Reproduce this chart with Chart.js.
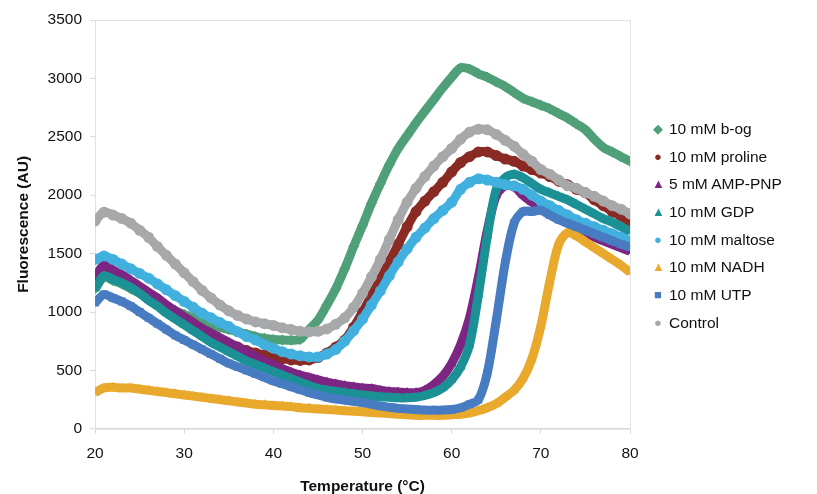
<!DOCTYPE html>
<html>
<head>
<meta charset="utf-8">
<script src="https://cdn.jsdelivr.net/npm/chart.js@4.4.0/dist/chart.umd.min.js"></script>
<style>
  html, body { margin: 0; padding: 0; background: #fff; }
  #wrap { position: relative; width: 817px; height: 494px; }
  #legend { position: absolute; left: 652px; top: 115px; font-family: "Liberation Sans", Arial, sans-serif; font-size: 15.5px; color: #111; }
  #legend div { height: 27.7px; line-height: 27.7px; white-space: nowrap; }
  #legend span.mk { display: inline-block; width: 12px; margin-right: 5px; text-align: center; font-size: 13px; vertical-align: 1px; }
</style>
</head>
<body>
<div id="wrap">
  <canvas id="c-melt" width="817" height="494"></canvas>
  <div id="legend"></div>
</div>
<script>
// temperature steps (°C)
const temps = [];
for (let t = 20; t <= 80; t++) temps.push(t);

const labels = ['10 mM b-og', '10 mM proline', '5 mM AMP-PNP', '10 mM GDP', '10 mM maltose', '10 mM NADH', '10 mM UTP', 'Control'];

const bog = [1200,1300,1270,1240,1200,1160,1120,1080,1040,1010,980,950,920,895,870,850,830,810,790,775,765,760,758,765,850,930,1060,1200,1370,1560,1740,1930,2100,2260,2400,2510,2620,2720,2820,2920,3010,3090,3080,3040,3010,2970,2930,2880,2830,2800,2770,2740,2700,2660,2610,2560,2480,2410,2370,2330,2290];
const proline = [1300,1370,1330,1280,1230,1180,1130,1080,1030,980,930,880,840,800,760,730,700,670,650,630,610,600,590,585,590,610,650,700,760,870,1000,1140,1280,1430,1580,1730,1860,1950,2030,2110,2200,2280,2330,2370,2370,2340,2310,2290,2250,2220,2190,2160,2120,2090,2050,2020,1960,1910,1860,1820,1770];
const ampPnp = [1300,1400,1360,1320,1270,1220,1170,1120,1060,1010,960,910,860,820,780,740,700,660,620,580,550,515,485,460,440,420,400,385,370,360,350,345,330,320,315,310,310,330,380,450,560,720,950,1300,1700,2000,2080,2070,2000,1940,1900,1850,1800,1760,1720,1680,1640,1610,1580,1550,1520];
const gdp = [1200,1310,1280,1250,1210,1160,1100,1050,990,940,890,840,790,740,700,660,620,580,550,520,490,460,430,400,370,345,330,320,310,300,290,280,275,270,265,265,270,285,310,350,420,530,720,1150,1650,2050,2150,2180,2150,2100,2050,2020,1990,1960,1920,1880,1840,1800,1770,1730,1690];
const maltose = [1450,1480,1450,1410,1370,1330,1290,1240,1190,1140,1090,1040,990,950,910,875,830,790,760,720,690,660,640,625,615,615,640,680,750,840,940,1060,1180,1310,1430,1540,1640,1720,1800,1870,1940,2050,2110,2140,2130,2110,2090,2080,2050,2000,1950,1910,1870,1830,1790,1760,1730,1700,1670,1640,1610];
const nadh = [310,350,355,350,350,340,330,320,310,300,290,280,270,260,250,240,230,220,210,205,200,195,190,180,175,170,165,160,155,150,145,140,135,130,125,120,115,115,115,115,120,125,135,155,180,215,270,330,430,600,880,1260,1580,1680,1650,1600,1550,1500,1450,1400,1340];
const utp = [1080,1150,1120,1090,1050,1000,950,900,850,800,760,720,680,640,600,560,530,500,470,440,410,385,360,335,310,290,270,255,245,235,225,210,195,185,175,170,165,160,160,160,165,180,210,250,480,930,1420,1760,1860,1860,1870,1830,1790,1760,1730,1700,1670,1640,1610,1580,1555];
const control = [1780,1855,1830,1800,1760,1700,1640,1560,1485,1410,1335,1260,1185,1120,1060,1010,970,940,915,900,885,865,850,835,830,835,855,895,950,1040,1160,1300,1450,1620,1790,1940,2060,2160,2250,2330,2400,2480,2540,2565,2560,2520,2470,2420,2350,2290,2220,2180,2130,2080,2060,2020,1990,1950,1910,1880,1840];

const series = [bog, proline, ampPnp, gdp, maltose, nadh, utp, control];
const colors = ['#4f9f78', '#8a2a24', '#7d2582', '#1b9195', '#41b0de', '#e8a92c', '#477cc2', '#a7a8aa'];
const shapes = ['rectRot', 'circle', 'triangle', 'triangle', 'circle', 'triangle', 'rect', 'circle'];
const glyphs = ['\u25C6', '\u25CF', '\u25B2', '\u25B2', '\u25CF', '\u25B2', '\u25A0', '\u25CF'];

const yTicks = [0, 500, 1000, 1500, 2000, 2500, 3000, 3500];

document.addEventListener('DOMContentLoaded', () => {
    const datasets = series.map((vals, i) => ({
        label: labels[i],
        data: vals.map((v, k) => ({ x: temps[k], y: v })),
        borderColor: colors[i],
        backgroundColor: colors[i],
        borderWidth: 9,
        pointStyle: shapes[i],
        pointRadius: 5.5,
        pointBorderWidth: 0,
        tension: 0.3,
        order: series.length - 1 - i   // later series drawn on top, like the original
    }));

    // light frame around the plot area
    const frame = {
        id: 'frame',
        beforeDatasetsDraw(chart) {
            const { ctx, chartArea: a } = chart;
            ctx.save();
            ctx.strokeStyle = '#e2e2e2';
            ctx.lineWidth = 1;
            ctx.strokeRect(a.left + 0.5, a.top + 0.5, a.right - a.left, a.bottom - a.top);
            ctx.restore();
        }
    };

    const font = { family: '"Liberation Sans", Arial, sans-serif', size: 15.5 };

    new Chart(document.getElementById('c-melt'), {
        type: 'line',
        data: { datasets },
        options: {
            responsive: false, animation: false,
            layout: { padding: { left: 14, right: 187, top: 20, bottom: 0 } },
            scales: {
                x: {
                    type: 'linear', min: 20, max: 80,
                    ticks: { stepSize: 10, color: '#111', font, padding: 11 },
                    grid: { drawOnChartArea: false, color: '#d8d8d8', tickLength: 5 },
                    border: { color: '#d8d8d8' },
                    title: { display: true, text: 'Temperature (°C)', color: '#111', font: { ...font, weight: 'bold' }, padding: { top: 3, bottom: -2 } }
                },
                y: {
                    min: 0, max: 3500,
                    afterBuildTicks: axis => { axis.ticks = yTicks.map(v => ({ value: v })); },
                    ticks: { color: '#111', font, padding: 8, callback: v => String(v) },
                    grid: { drawOnChartArea: false, color: '#d8d8d8', tickLength: 5 },
                    border: { color: '#d8d8d8' },
                    title: { display: true, text: 'Fluorescence (AU)', color: '#111', font: { ...font, weight: 'bold' }, padding: { top: 0, bottom: 7 } }
                }
            },
            plugins: { legend: { display: false }, tooltip: { enabled: false } }
        },
        plugins: [frame]
    });

    // HTML legend, same order as the series
    const lg = document.getElementById('legend');
    labels.forEach((name, i) => {
        const row = document.createElement('div');
        row.innerHTML = '<span class="mk" style="color:' + colors[i] + '">' + glyphs[i] + '</span>' + name;
        lg.appendChild(row);
    });
});
</script>
</body>
</html>
